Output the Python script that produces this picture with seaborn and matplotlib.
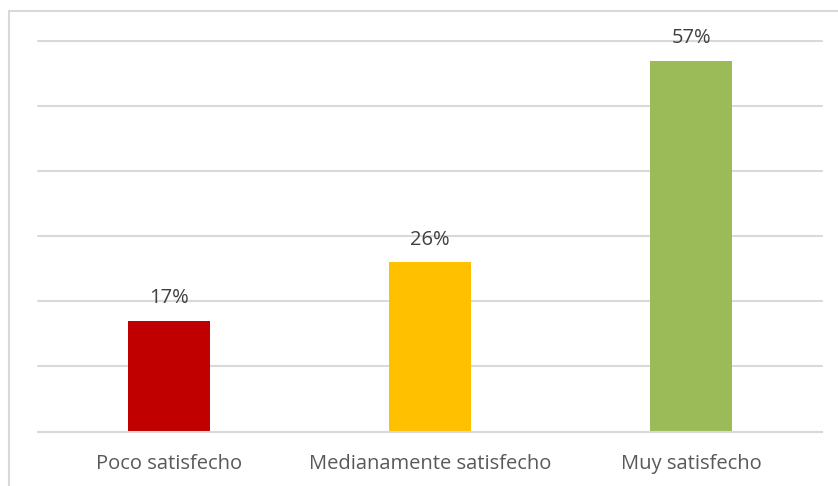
import matplotlib
matplotlib.use("Agg")
import matplotlib.pyplot as plt
import seaborn as sns
import pandas as pd
from matplotlib.patches import Rectangle

categories = ["Poco satisfecho", "Medianamente satisfecho", "Muy satisfecho"]
values = [17, 26, 57]
colors = ["#C00000", "#FFC000", "#9BBB59"]

sns.set_theme(style="white")
plt.rcParams['font.family'] = ['Open Sans', 'DejaVu Sans']

W, H = 838, 486
fig = plt.figure(figsize=(W / 100, H / 100), dpi=100)
fig.patch.set_facecolor("white")

# outer chart border (cropped at right/bottom)
fig.patches.append(Rectangle((8.5 / W, -0.1), 1.2, 1 - 10.5 / H + 0.1,
                             transform=fig.transFigure, fill=False,
                             edgecolor="#D9D9D9", linewidth=1.5))

ax = fig.add_axes([38 / W, 1 - 431.5 / H, (822 - 38) / W, (431.5 - 41) / H])
df = pd.DataFrame({"cat": categories, "val": values})
sns.barplot(data=df, x="cat", y="val", hue="cat", palette=colors,
            width=0.315, legend=False, ax=ax, saturation=1, linewidth=0)

ax.set_ylim(0, 60)
ax.set_yticks(range(0, 61, 10))
ax.yaxis.grid(True, color="#D9D9D9", linewidth=1.5)
for gl in ax.get_ygridlines():
    gl.set_clip_on(False)
ax.set_axisbelow(True)
ax.tick_params(axis="y", left=False, labelleft=False)
ax.tick_params(axis="x", bottom=False, pad=10, labelsize=14.5, labelcolor="#595959")
for s in ["left", "right", "top"]:
    ax.spines[s].set_visible(False)
ax.spines["bottom"].set_color("#D9D9D9")
ax.spines["bottom"].set_linewidth(1.5)
ax.set_xlabel("")
ax.set_ylabel("")

for i, v in enumerate(values):
    ax.annotate(f"{v}%", (i, v), xytext=(0, 9), textcoords="offset points",
                ha="center", va="bottom", fontsize=14.5, color="#404040")

fig.savefig("out.png", dpi=100, facecolor="white")
